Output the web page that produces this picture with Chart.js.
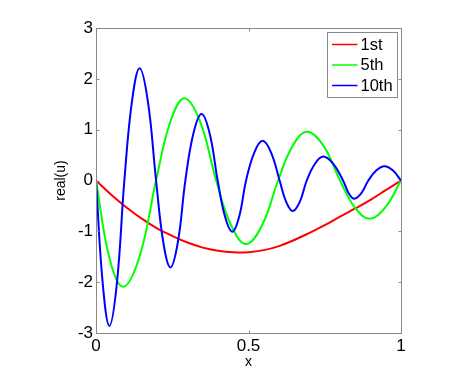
<!DOCTYPE html>
<html><head><meta charset="utf-8">
<script src="https://cdn.jsdelivr.net/npm/chart.js@4/dist/chart.umd.min.js"></script>
<style>html,body{margin:0;padding:0;background:#fff;overflow:hidden}canvas{display:block}</style>
</head><body>
<canvas id="c" width="471" height="375"></canvas>
<script>
const seriesNames = ['1st', '5th', '10th'];
const seriesColors = ['#ff0000', '#00ff00', '#0000ff'];

const redX = [0,0.05,0.1,0.15,0.2,0.25,0.3,0.35,0.4,0.45,0.5,0.55,0.6,0.65,0.7,0.75,0.8,0.85,0.9,0.95,1];
const redY = [0,-0.28,-0.53,-0.75,-0.94,-1.09,-1.22,-1.32,-1.38,-1.41,-1.41,-1.37,-1.29,-1.17,-1.03,-0.88,-0.71,-0.55,-0.38,-0.19,0];

const greenX = [0,0.045,0.09,0.1435,0.197,0.2435,0.29,0.342,0.394,0.443,0.492,0.5445,0.597,0.6445,0.692,0.746,0.80,0.8485,0.897,0.9485,1];
const greenY = [0,-1.55,-2.09,-1.48,0,1.15,1.62,1.15,0,-0.88,-1.25,-0.88,0,0.68,0.96,0.68,0,-0.53,-0.75,-0.53,0];

const blueX = [0,0.022,0.044,0.0685,0.093,0.118,0.143,0.170,0.197,0.2205,0.244,0.2685,0.293,0.3195,0.346,0.3725,0.399,0.423,0.447,0.4695,0.492,0.519,0.546,0.574,0.602,0.6235,0.645,0.668,0.691,0.718,0.745,0.7775,0.81,0.8285,0.847,0.87,0.893,0.9195,0.946,0.973,1];
const blueY = [0,-2.02,-2.86,-2.02,0,1.56,2.21,1.56,0,-1.21,-1.71,-1.21,0,0.93,1.31,0.93,0,-0.71,-1.01,-0.71,0,0.55,0.78,0.55,0,-0.42,-0.60,-0.42,0,0.33,0.47,0.33,0,-0.25,-0.36,-0.25,0,0.20,0.28,0.20,0];

const xTicks = [0, 0.5, 1];
const yTicks = [-3, -2, -1, 0, 1, 2, 3];
const xLabel = 'x';
const yLabel = 'real(u)';

const FONT = "'Liberation Sans', Arial, Helvetica, sans-serif";
const AXIS_COLOR = '#8a8a8a';

function pts(xs, ys) { return xs.map((x, i) => ({ x: x, y: ys[i] })); }

const allX = [redX, greenX, blueX];
const allY = [redY, greenY, blueY];

const datasets = seriesNames.map((name, i) => ({
  label: name,
  data: pts(allX[i], allY[i]),
  borderColor: seriesColors[i],
  backgroundColor: seriesColors[i],
  borderWidth: 2,
  pointRadius: 0,
  showLine: true,
  fill: false,
  tension: 0.4,
  borderJoinStyle: 'round',
  order: 3 - i
}));

const boxPlugin = {
  id: 'boxPlugin',
  afterDraw(chart) {
    const { ctx, chartArea: a, scales } = chart;
    ctx.save();
    ctx.strokeStyle = AXIS_COLOR;
    ctx.lineWidth = 1;
    const L = Math.round(a.left) + 0.5, R = Math.round(a.right) + 0.5;
    const T = Math.round(a.top) + 0.5, B = Math.round(a.bottom) + 0.5;
    ctx.strokeRect(L, T, R - L, B - T);
    const tl = 3;
    ctx.beginPath();
    xTicks.forEach(v => {
      const px = Math.round(scales.x.getPixelForValue(v)) + 0.5;
      ctx.moveTo(px, B); ctx.lineTo(px, B - tl);
      ctx.moveTo(px, T); ctx.lineTo(px, T + tl);
    });
    yTicks.forEach(v => {
      const py = Math.round(scales.y.getPixelForValue(v)) + 0.5;
      ctx.moveTo(L, py); ctx.lineTo(L + tl, py);
      ctx.moveTo(R, py); ctx.lineTo(R - tl, py);
    });
    ctx.stroke();

    // legend
    const lx = 327.5, ly = 32.5, lw = 70, lh = 65;
    ctx.fillStyle = '#ffffff';
    ctx.fillRect(lx, ly, lw, lh);
    ctx.strokeStyle = AXIS_COLOR;
    ctx.strokeRect(lx, ly, lw, lh);
    const rows = [44.5, 65, 85.5];
    ctx.font = '16.5px ' + FONT;
    ctx.textBaseline = 'middle';
    ctx.textAlign = 'left';
    chart.data.datasets.forEach((ds, i) => {
      ctx.strokeStyle = ds.borderColor;
      ctx.lineWidth = 1.5;
      ctx.beginPath();
      ctx.moveTo(332, rows[i]); ctx.lineTo(357.5, rows[i]);
      ctx.stroke();
      ctx.fillStyle = '#000000';
      ctx.fillText(ds.label, 360.5, rows[i] + 0.5);
    });
    ctx.restore();
  }
};

new Chart(document.getElementById('c'), {
  type: 'scatter',
  data: { datasets: datasets },
  options: {
    responsive: false,
    animation: false,
    events: [],
    layout: { padding: { left: 0, top: 28, right: 70, bottom: 0 } },
    plugins: { legend: { display: false }, tooltip: { enabled: false } },
    scales: {
      x: {
        type: 'linear', min: 0, max: 1,
        afterBuildTicks: s => { s.ticks = xTicks.map(v => ({ value: v })); },
        afterFit: s => { s.height = 42; },
        grid: { display: false, drawTicks: false },
        border: { display: false },
        ticks: { color: '#000', padding: 3, font: { family: FONT, size: 17 }, maxRotation: 0,
          callback: v => String(v) },
        title: { display: true, text: xLabel, color: '#000', font: { family: FONT, size: 14 }, padding: { top: 0, bottom: 4 } }
      },
      y: {
        type: 'linear', min: -3, max: 3,
        afterBuildTicks: s => { s.ticks = yTicks.map(v => ({ value: v })); },
        afterFit: s => { s.width = 96; },
        grid: { display: false, drawTicks: false },
        border: { display: false },
        ticks: { color: '#000', padding: 3, font: { family: FONT, size: 17 }, callback: v => String(v) },
        title: { display: true, text: yLabel, color: '#000', font: { family: FONT, size: 14 }, padding: { top: 53, bottom: 0 } }
      }
    }
  },
  plugins: [boxPlugin]
});
</script>
</body></html>
